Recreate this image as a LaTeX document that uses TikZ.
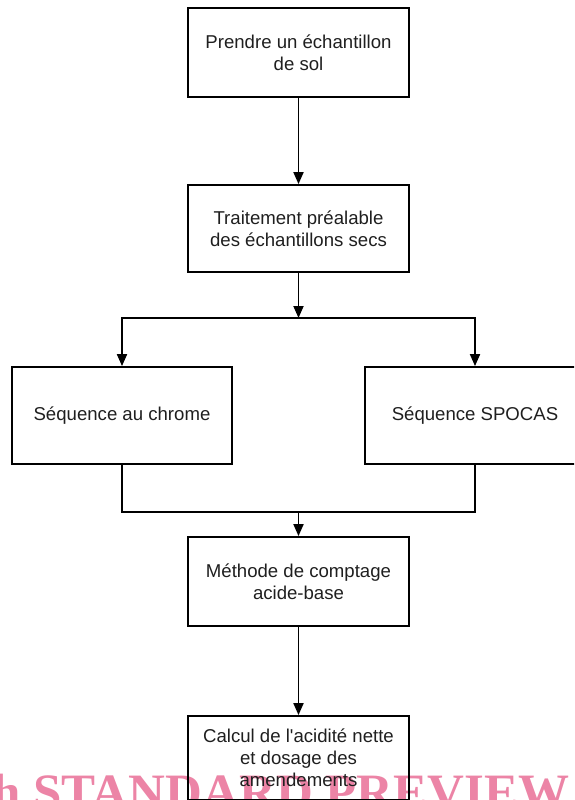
\documentclass[tikz,border=0pt]{standalone}
\usepackage{fontspec}
\setmainfont{Liberation Sans}
\newfontfamily\wmfont{Liberation Serif}
\usetikzlibrary{arrows.meta}
\definecolor{wmpink}{RGB}{236,132,166}
\tikzset{
  box/.style={draw, line width=1.8pt, inner sep=0pt, align=center,
    font=\fontsize{18.6}{22}\selectfont, text=black!88},
  arr/.style={line width=1.8pt, -{Triangle[length=12pt,width=10pt]}},
  ln/.style={line width=1.8pt},
}
\begin{document}
\begin{tikzpicture}[x=1pt,y=1pt]
\useasboundingbox (0,0) rectangle (574,-800);
\clip (0,0) rectangle (574,-800);
\node[anchor=base west, inner sep=0pt, text=wmpink,
  font=\wmfont\bfseries\fontsize{51}{51}\selectfont] (wm) at (-8,-809) {h STANDARD PREVIEW};
\node[box, minimum width=221, minimum height=89] (b1) at (298.5,-52.5) {Prendre un échantillon\\de sol};
\node[box, minimum width=221, minimum height=87] (b2) at (298.5,-228.5) {Traitement préalable\\des échantillons secs};
\node[box, minimum width=220, minimum height=97] (l) at (122,-415.5) {Séquence au chrome};
\node[box, minimum width=220, minimum height=97] (r) at (475,-415.5) {Séquence SPOCAS};
\node[box, minimum width=221, minimum height=89] (b3) at (298.5,-581.5) {Méthode de comptage\\acide-base};
\node[box, minimum width=221, minimum height=84] (b4) at (298.5,-758) {Calcul de l\textquotesingle acidité nette\\et dosage des\\amendements};
\coordinate (split) at (298.5,-318);
\coordinate (merge) at (298.5,-512);
\draw[arr] (b1.south) -- (b2.north);
\draw[arr] (b2.south) -- (split);
\draw[arr] (split) -| (l.north);
\draw[arr] (split) -| (r.north);
\draw[ln] (l.south) |- (merge);
\draw[ln] (r.south) |- (merge);
\draw[arr] (merge) -- (b3.north);
\draw[arr] (b3.south) -- (b4.north);
\end{tikzpicture}
\end{document}
